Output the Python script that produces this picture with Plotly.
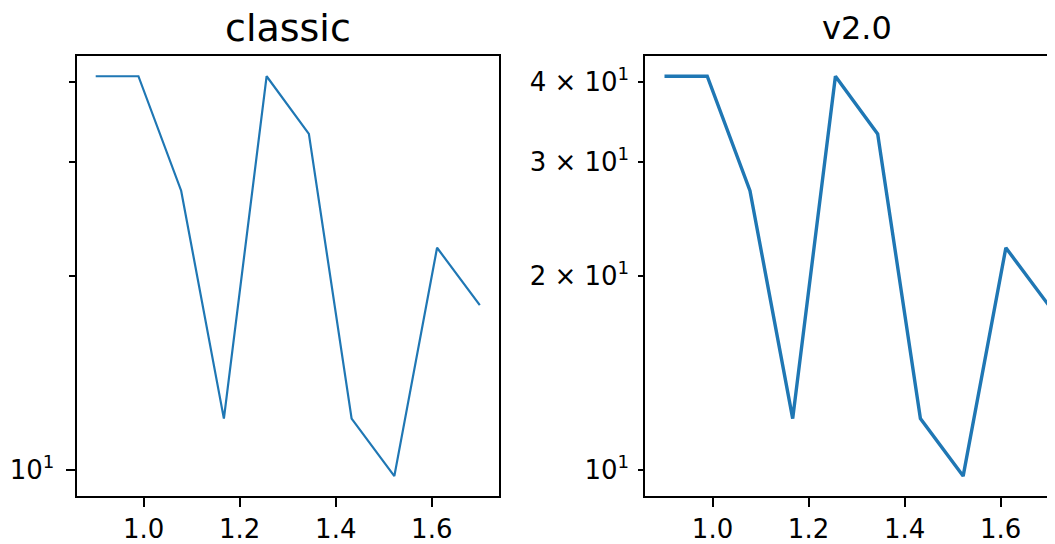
import math
import plotly.graph_objects as go

# ---- data ----
x_vals = [0.900, 0.989, 1.078, 1.167, 1.256, 1.344, 1.433, 1.522, 1.611, 1.700]
y_vals = [40.8, 40.8, 27.1, 12.0, 40.8, 33.2, 12.0, 9.77, 22.1, 18.0]
titles = ["classic", "v2.0"]
x_tick_vals = [1.0, 1.2, 1.4, 1.6]
x_tick_text = ["1.0", "1.2", "1.4", "1.6"]
y_major_vals = [10]
y_minor_vals = [20, 30, 40]
left_y_text = ["10<sup>1</sup>"]
right_y_text = ["10<sup>1</sup>", "2 × 10<sup>1</sup>", "3 × 10<sup>1</sup>", "4 × 10<sup>1</sup>"]

# page is offset by the default 8px body margin
OFF = 8
W, H = 1055 - OFF, 544 - OFF
FONT = "DejaVu Sans"
BLUE = "#1f77b4"

# log range with 5% padding (matplotlib-like autoscale)
lo, hi = math.log10(min(y_vals)), math.log10(max(y_vals))
pad = 0.05 * (hi - lo)
yrange = [lo - pad, hi + pad]
xpad = 0.05 * (max(x_vals) - min(x_vals))
xrange_left = [min(x_vals) - xpad, max(x_vals) + xpad]

# pixel geometry (figure coords)
L0, L1 = 76.5 - OFF, 499.0 - OFF
R0 = 645.3 - OFF
TOP, BOT = 56.7 - OFF, 500.7 - OFF
px_per_unit = (L1 - L0) / (xrange_left[1] - xrange_left[0])
xrange_right = [xrange_left[0], xrange_left[0] + (W - R0) / px_per_unit]

fig = go.Figure()
fig.add_trace(go.Scatter(x=x_vals, y=y_vals, mode="lines", xaxis="x", yaxis="y",
                         line=dict(color=BLUE, width=2.2), showlegend=False))
fig.add_trace(go.Scatter(x=x_vals, y=y_vals, mode="lines", xaxis="x2", yaxis="y2",
                         line=dict(color=BLUE, width=3.4), showlegend=False))

ydom = [1 - BOT / H, 1 - TOP / H]
tickfont = dict(family=FONT, size=26, color="black")

common_x = dict(tickvals=x_tick_vals, ticktext=x_tick_text, ticks="outside",
                ticklen=9, tickcolor="black", showgrid=False, zeroline=False,
                showline=True, linecolor="black", tickfont=tickfont, ticklabelstandoff=0)

fig.update_layout(
    width=W, height=H, margin=dict(l=0, r=0, t=0, b=0),
    paper_bgcolor="white", plot_bgcolor="white",
    xaxis=dict(common_x, domain=[L0 / W, L1 / W], range=xrange_left, anchor="y",
               mirror=True, linewidth=2.0, tickwidth=2.0),
    xaxis2=dict(common_x, domain=[R0 / W, 1.0], range=xrange_right, anchor="y2",
                mirror=True, linewidth=1.8, tickwidth=1.8),
    yaxis=dict(type="log", domain=ydom, range=yrange, anchor="x",
               tickvals=y_major_vals, ticktext=left_y_text, ticks="outside", ticklen=9,
               tickwidth=2.0, tickcolor="black", showgrid=False, zeroline=False,
               showline=True, mirror=True, linecolor="black", linewidth=2.0,
               tickfont=tickfont, ticklabelstandoff=6,
               minor=dict(tickvals=y_minor_vals, ticks="outside", ticklen=5.5,
                          tickwidth=2.0, tickcolor="black", showgrid=False)),
    yaxis2=dict(type="log", domain=ydom, range=yrange, anchor="x2",
                tickvals=y_major_vals + y_minor_vals, ticktext=right_y_text,
                ticks="outside", ticklen=5, tickwidth=1.8, tickcolor="black",
                showgrid=False, zeroline=False, showline=True, mirror=False,
                linecolor="black", linewidth=1.8, tickfont=tickfont, ticklabelstandoff=4),
    yaxis3=dict(type="log", domain=ydom, range=yrange, anchor="x2", overlaying="y2",
                tickvals=y_major_vals, ticktext=[""], ticks="outside", ticklen=9,
                tickwidth=1.8, tickcolor="black", showgrid=False, zeroline=False,
                showline=False, showticklabels=False),
)

fig.add_annotation(text=titles[0], x=(L0 + L1) / 2 / W, y=1 - 44 / H, xref="paper", yref="paper",
                   xanchor="center", yanchor="bottom", showarrow=False,
                   font=dict(family=FONT, size=38, color="black"))
fig.add_annotation(text=titles[1], x=(R0 + R0 + (L1 - L0)) / 2 / W, y=1 - 41 / H, xref="paper",
                   yref="paper", xanchor="center", yanchor="bottom", showarrow=False,
                   font=dict(family=FONT, size=32, color="black"))

fig.write_html("out.html")
